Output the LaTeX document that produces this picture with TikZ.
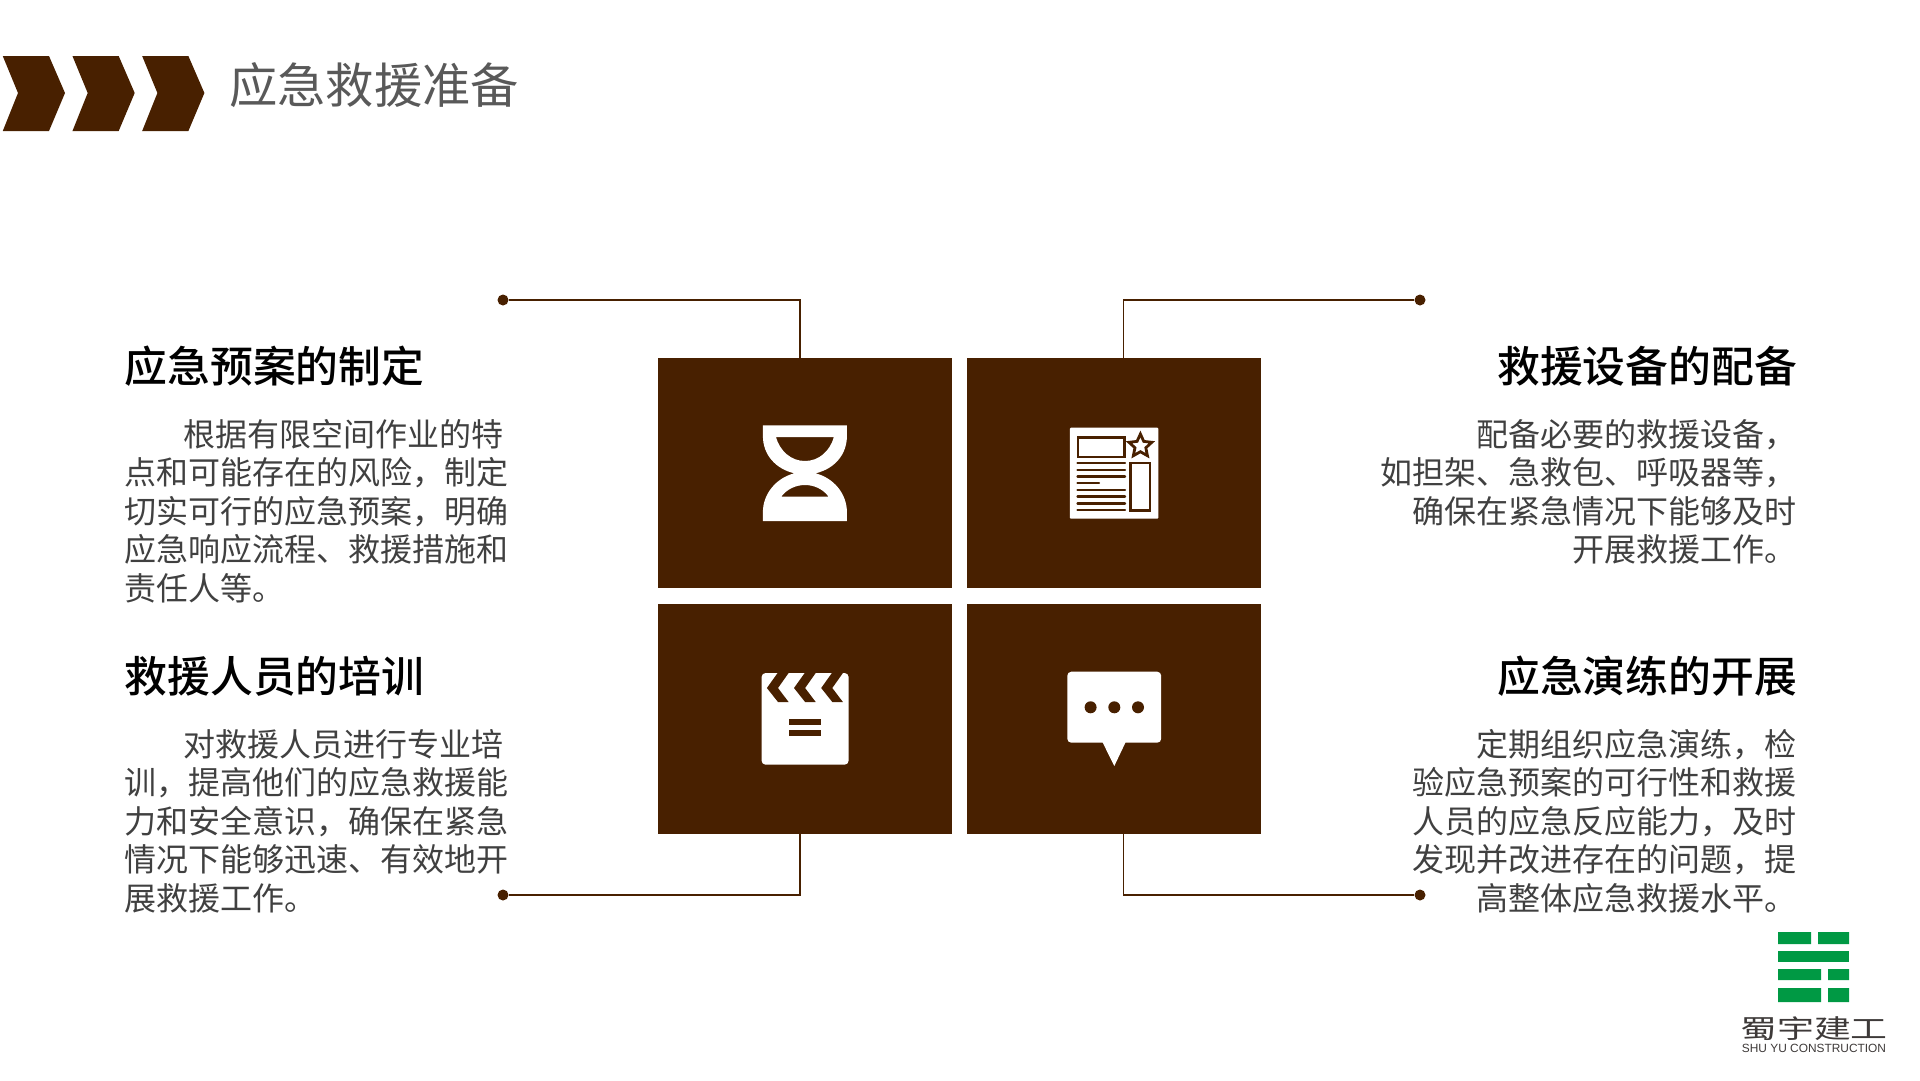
\documentclass[tikz,border=0pt]{standalone}
\usepackage{fontspec}
\setmainfont{Noto Sans CJK SC}
\newfontfamily\headfont{Noto Sans CJK SC Medium}
\newfontfamily\latinfont{Liberation Sans}
\usetikzlibrary{shapes.geometric,positioning}
\definecolor{panelbrown}{RGB}{72,32,0}
\definecolor{titlegray}{RGB}{89,89,89}
\definecolor{bodygray}{RGB}{64,64,64}
\definecolor{logogreen}{RGB}{0,153,68}
\definecolor{logogray}{RGB}{62,58,57}

\begin{document}
\begin{tikzpicture}[x=1pt,y=-1pt,
    panel/.style={rectangle, fill=panelbrown, minimum width=293.5pt, minimum height=230pt, inner sep=0pt},
    tip/.style={circle, fill=panelbrown, minimum size=11pt, inner sep=0pt},
    link/.style={draw=panelbrown, line width=1.2pt},
    heading/.style={inner sep=0pt, text=black, font=\fontsize{42.8}{50}\headfont},
    bodyleft/.style={inner sep=0pt, anchor=north west, align=left, text=bodygray, font=\fontsize{32}{38.5}\selectfont},
    bodyright/.style={inner sep=0pt, anchor=north east, align=right, text=bodygray, font=\fontsize{32}{38.5}\selectfont},
    iconline/.style={draw=panelbrown, line width=2.4pt}
]
    \useasboundingbox (0,0) rectangle (1920,1080);

    % Title
    \foreach \dx in {0,69.7,139.4} {
        \fill[panelbrown, xshift=\dx pt] (2.75,56) -- (49,56) -- (65,93) -- (49,131) -- (2.75,131) -- (18,93) -- cycle;
    }
    \node[inner sep=0pt, anchor=west, text=titlegray, font=\fontsize{48.3}{56}\selectfont] (title) at (229,85) {应急救援准备};

    % Panels
    \node[panel] (panelA) at (804.9,473) {};
    \node[panel] (panelB) at (1114,473) {};
    \node[panel] (panelC) at (804.9,719) {};
    \node[panel] (panelD) at (1114,719) {};

    % Connections
    \node[tip] (tipA) at (503,300) {};
    \node[tip] (tipB) at (1420,300) {};
    \node[tip] (tipC) at (503,895) {};
    \node[tip] (tipD) at (1420,895) {};
    \draw[link] (tipA) -| ([xshift=-4.9pt]panelA.north);
    \draw[link] (tipB) -| ([xshift=9.7pt]panelB.north);
    \draw[link] (tipC) -| ([xshift=-4.9pt]panelC.south);
    \draw[link] (tipD) -| ([xshift=9.7pt]panelD.south);

    % Hourglass
    \fill[white, even odd rule] (762.9,425.3) -- (846.9,425.3) -- (846.9,436)
        .. controls (846.9,455) and (834,469) .. (815.5,473.3)
        .. controls (834,478) and (846.9,494) .. (846.9,512) -- (846.9,521) -- (762.9,521) -- (762.9,512)
        .. controls (762.9,494) and (776,478) .. (794.3,473.3)
        .. controls (776,469) and (762.9,455) .. (762.9,436) -- cycle
        (775.9,437) -- (833.9,437) .. controls (830,451) and (819,461) .. (804.9,461)
        .. controls (791,461) and (780,451) .. (775.9,437) -- cycle
        (781.2,496.7) -- (828.6,496.7) .. controls (823,489) and (814,485) .. (804.9,485)
        .. controls (796,485) and (787,489) .. (781.2,496.7) -- cycle;

    % Newspaper
    \fill[white, rounded corners=1pt] (1069.8,427.7) rectangle (1158.4,518.7);
    \draw[iconline] (1078,437.5) rectangle (1124.5,456.7);
    \draw[iconline] (1130.6,463) rectangle (1150.2,510.5);
    \node[star, star points=5, star point ratio=2.1, draw=panelbrown, line width=2.8pt, fill=white,
        minimum size=24pt, inner sep=0pt] (starmark) at (1140.4,446) {};
    \foreach \y in {463,469.7,476.3,489.7,496.3,503.3,510} {
        \draw[iconline, line cap=round] (1077.5,\y) -- (1125,\y);
    }
    \draw[iconline, line cap=round] (1077.5,483) -- (1099,483);

    % Clapper board
    \fill[white, rounded corners=4pt] (761.6,673) rectangle (848.6,764.7);
    \foreach \dx in {0,27.1,54.3} {
        \fill[panelbrown, xshift=\dx pt] (777.6,673) -- (766.9,688) -- (778,702) -- (788.6,702) -- (778,688) -- (788.6,673) -- cycle;
    }
    \fill[panelbrown] (788.6,719) rectangle (821.2,725);
    \fill[panelbrown] (788.6,730.3) rectangle (821.2,736.3);

    % Speech bubble
    \fill[white, rounded corners=4pt] (1067.3,671.7) rectangle (1161.2,742.7);
    \fill[white] (1102.4,742) -- (1125.7,742) -- (1114.3,766) -- cycle;
    \foreach \x in {1090.6,1114.3,1138} {
        \fill[panelbrown] (\x,707.3) circle (6pt);
    }

    % Left column
    \node[heading, anchor=west] (headA) at (124.5,366) {应急预案的制定};
    \node[bodyleft] (textA) at (124.5,419) {\hspace*{59pt}根据有限空间作业的特\\点和可能存在的风险，制定\\切实可行的应急预案，明确\\应急响应流程、救援措施和\\责任人等。};
    \node[heading, anchor=west] (headC) at (124.5,676) {救援人员的培训};
    \node[bodyleft] (textC) at (124.5,729) {\hspace*{59pt}对救援人员进行专业培\\训，提高他们的应急救援能\\力和安全意识，确保在紧急\\情况下能够迅速、有效地开\\展救援工作。};

    % Right column
    \node[heading, anchor=east] (headB) at (1797,366) {救援设备的配备};
    \node[bodyright] (textB) at (1797,419) {配备必要的救援设备，\\如担架、急救包、呼吸器等，\\确保在紧急情况下能够及时\\开展救援工作。};
    \node[heading, anchor=east] (headD) at (1797,676) {应急演练的开展};
    \node[bodyright] (textD) at (1797,729) {定期组织应急演练，检\\验应急预案的可行性和救援\\人员的应急反应能力，及时\\发现并改进存在的问题，提\\高整体应急救援水平。};

    % Logo
    \fill[logogreen] (1778,932) rectangle (1811,944) (1818,932) rectangle (1849,944);
    \fill[logogreen] (1778,951) rectangle (1849,962);
    \fill[logogreen] (1778,969) rectangle (1821,980) (1828,969) rectangle (1849,980);
    \fill[logogreen] (1778,988) rectangle (1821,1002) (1828,988) rectangle (1849,1002);
    \node[inner sep=0pt, xscale=1.42, transform shape, text=logogray, font=\fontsize{26}{30}\selectfont] (logoname) at (1814,1029) {蜀宇建工};
    \node[inner sep=0pt, text=logogray, font=\fontsize{11.9}{14}\latinfont] (logolatin) at (1814,1048) {SHU YU CONSTRUCTION};
\end{tikzpicture}
\end{document}
